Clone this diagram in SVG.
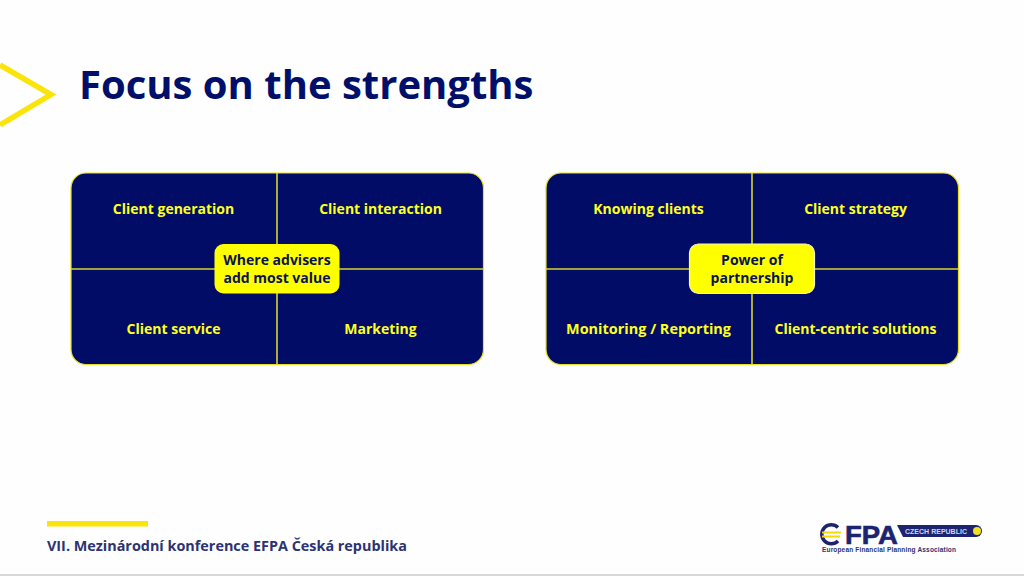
<svg xmlns="http://www.w3.org/2000/svg" width="1024" height="576" viewBox="0 0 1024 576">
<style>
text{font-family:"Open Sans","Noto Sans","Liberation Sans",sans-serif;font-weight:700}
.q{fill:#000c66;stroke:#e8e020;stroke-width:1.2}
.l{stroke:#d8d428;stroke-width:1.6;fill:none}
.t{fill:#ffff1e;font-size:14px;text-anchor:middle}
.c{fill:#ffff00}
.d{fill:#0a1450;font-size:14px;text-anchor:middle}
.logo{font-family:"Liberation Sans",Arial,sans-serif}
</style>
<rect width="1024" height="576" fill="#fefefe"/>
<rect y="574" width="1024" height="2" fill="#d8d8d8"/>
<path id="chevron" d="M0 65L51 94.500L0 125" fill="none" stroke="#fbe40a" stroke-width="5.500"/>
<text id="title" x="79" y="99" font-size="40" fill="#00106a">Focus on the strengths</text>
<g id="connectors">
<rect class="q" x="71" y="173" width="412.500" height="191.500" rx="15"/>
<path class="l" d="M277 173V364.500M71 269H483"/>
<rect class="q" x="546" y="173" width="412.500" height="191.500" rx="15"/>
<path class="l" d="M752 173V364.500M546 269H958"/>
</g>
<g id="n1"><text class="t" x="173.500" y="214">Client generation</text></g>
<g id="n2"><text class="t" x="380.500" y="214">Client interaction</text></g>
<g id="n3"><text class="t" x="173.500" y="334">Client service</text></g>
<g id="n4"><text class="t" x="380.500" y="334">Marketing</text></g>
<g id="center1"><rect class="c" x="214.500" y="244" width="125" height="49.500" rx="9"/>
<text class="d" x="277" y="265">Where advisers</text><text class="d" x="277" y="283">add most value</text></g>
<g id="n5"><text class="t" x="648.500" y="214">Knowing clients</text></g>
<g id="n6"><text class="t" x="855.500" y="214">Client strategy</text></g>
<g id="n7"><text class="t" x="648.500" y="334" textLength="165" lengthAdjust="spacingAndGlyphs">Monitoring / Reporting</text></g>
<g id="n8"><text class="t" x="855.500" y="334">Client-centric solutions</text></g>
<g id="center2"><rect class="c" x="689.500" y="244" width="125" height="49.500" rx="9" stroke="#f4f4c0" stroke-width="1.200"/>
<text class="d" x="752" y="265">Power of</text><text class="d" x="752" y="283">partnership</text></g>
<g id="footer"><rect x="47" y="521" width="101" height="5.500" fill="#fbe40a"/>
<text x="47" y="551" font-size="14.400" fill="#2c3272">VII. Mezinárodní konference EFPA Česká republika</text></g>
<g id="logo">
<path d="M838 527.500A9.500 9.500 0 1 0 838 541" fill="none" stroke="#1c2472" stroke-width="3.500"/>
<path d="M822 532.500H841M822 536.500H840" stroke="#f4d80a" stroke-width="2"/>
<path d="M897 525H976A6 6 0 0 1 976 537H903Z" fill="#1c2472"/>
<circle cx="977" cy="531" r="4" fill="#f4e020"/>
<text class="logo" x="845" y="543.500" font-size="26" fill="#1c2472" stroke="#1c2472" stroke-width="0.600" textLength="53" lengthAdjust="spacingAndGlyphs">FPA</text>
<text class="logo" x="905" y="534" font-size="7" fill="#d0d4ee" textLength="62">CZECH REPUBLIC</text>
<text class="logo" x="822" y="552" font-size="6.500" fill="#2c3272" textLength="134">European Financial Planning Association</text>
</g>
</svg>
